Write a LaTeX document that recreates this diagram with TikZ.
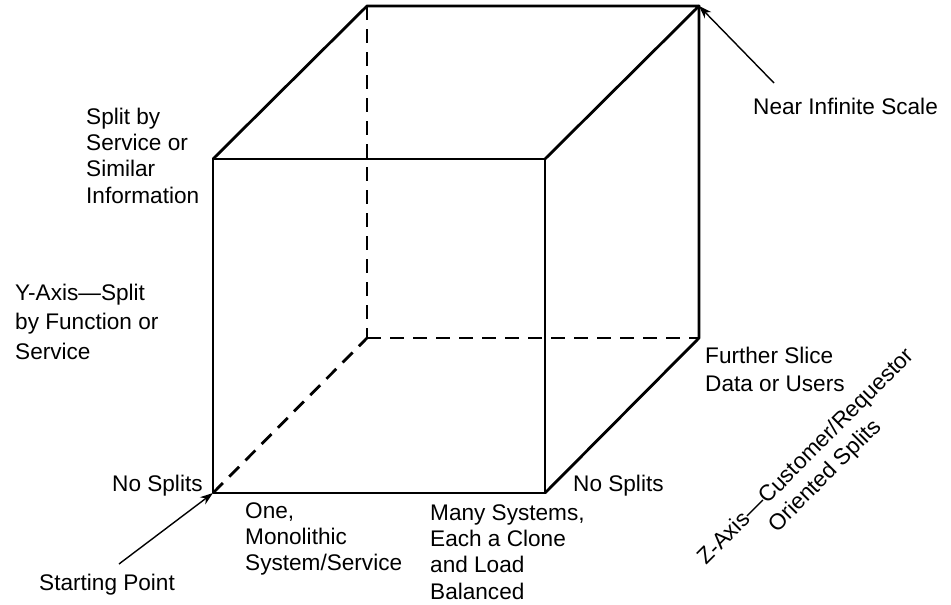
\documentclass[tikz,border=0pt]{standalone}
\usepackage{fontspec}
\setmainfont{Liberation Sans}
\usetikzlibrary{arrows.meta}
\begin{document}
\begin{tikzpicture}[x=1pt,y=-1pt,
  edge/.style={line width=2.8pt,line cap=round,line join=round},
  hidden/.style={line width=2.8pt,dash pattern=on 14pt off 9pt},
  pointer/.style={line width=1.4pt,-{Stealth[length=13pt,width=9pt]}},
  lbl/.style={inner sep=0pt,anchor=base west,align=left,font=\fontsize{22.6}{26.3}\selectfont},
]
\useasboundingbox (0,0) rectangle (951,605);
% cube corners
\coordinate (ftl) at (213,159);
\coordinate (ftr) at (545,159);
\coordinate (fbl) at (213,493);
\coordinate (fbr) at (545,493);
\coordinate (btl) at (367,6);
\coordinate (btr) at (699,6);
\coordinate (bbl) at (367,338);
\coordinate (bbr) at (699,338);
% hidden edges
\draw[hidden] (btl) -- (bbl);
\draw[hidden] (bbl) -- (bbr);
\draw[hidden] (fbl) -- (bbl);
% visible edges
\draw[edge] (ftl) -- (ftr) -- (fbr) -- (fbl) -- cycle;
\draw[edge] (ftl) -- (btl) -- (btr) -- (ftr);
\draw[edge] (btr) -- (bbr) -- (fbr);
% pointers
\coordinate (neartail) at (774,83);
\coordinate (starttail) at (119,564);
\draw[pointer] (neartail) -- (btr);
\draw[pointer] (starttail) -- (fbl);
% labels (anchor = baseline of the last line)
\node[lbl] (split) at (86,203) {Split by\\Service or\\Similar\\Information};
\node[lbl,font=\fontsize{22.6}{29.5}\selectfont] (yaxis) at (15,359) {Y-Axis—Split\\by Function or\\Service};
\node[lbl] (nosplitl) at (112,491) {No Splits};
\node[lbl,font=\fontsize{22.6}{25.7}\selectfont] (one) at (245,570) {One,\\Monolithic\\System/Service};
\node[lbl] (many) at (430,599) {Many Systems,\\Each a Clone\\and Load\\Balanced};
\node[lbl] (nosplitr) at (573,491) {No Splits};
\node[lbl,font=\fontsize{22.6}{28}\selectfont] (further) at (705,391) {Further Slice\\Data or Users};
\node[lbl] (near) at (753,114) {Near Infinite Scale};
\node[lbl] (start) at (39,590) {Starting Point};
\node[inner sep=0pt,align=center,rotate=45,font=\fontsize{22.6}{27}\selectfont] (zaxis) at (816,467) {Z-Axis—Customer/Requestor\\Oriented Splits};
\end{tikzpicture}
\end{document}
